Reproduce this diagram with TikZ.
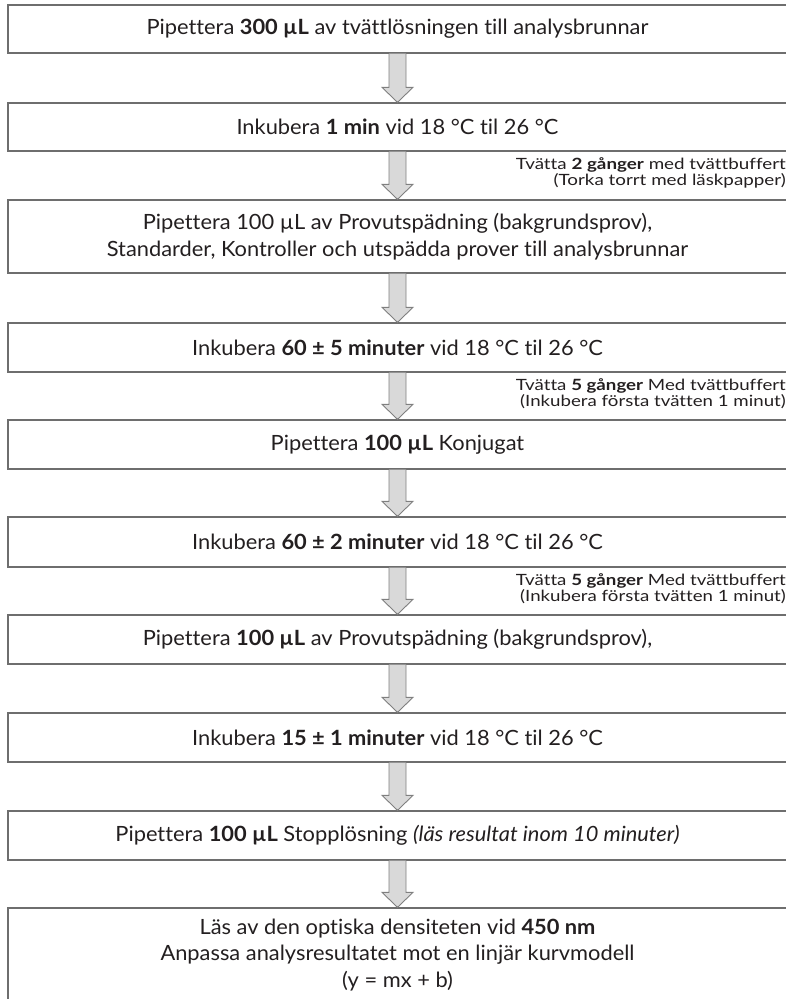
\documentclass[tikz,border=0pt]{standalone}
\usepackage{fontspec}
\setmainfont{Lato}[Ligatures=NoCommon, FakeStretch=1.04]
\newfontfamily\notefont{Lato}[Ligatures=NoCommon]
\usetikzlibrary{calc}

\definecolor{boxline}{HTML}{6E6E6E}
\definecolor{arrowfill}{HTML}{D9D9D9}
\definecolor{arrowline}{HTML}{7F7F7F}
\definecolor{inktext}{HTML}{231F20}

% two right-aligned lines of a wash note, stretched to the width of the original
\newcommand{\washtext}[2]{\resizebox{270pt}{\height}{\begin{tabular}{@{}r@{}}#1\\#2\end{tabular}}}

\begin{document}
\begin{tikzpicture}[x=1pt,y=1pt,
    stepbox/.style={draw=boxline, line width=1.3pt, fill=white, text=inktext,
      minimum width=779pt, minimum height=#1, inner sep=0pt, align=center,
      font=\fontsize{21}{26.5}\selectfont},
    washnote/.style={anchor=east, inner sep=0pt, text=inktext,
      font=\notefont\fontsize{15.5}{16}\selectfont},
    fatarrow/.style={draw=arrowline, fill=arrowfill, line width=0.9pt, line join=miter}]
    \useasboundingbox (0,0) rectangle (785,999);
    % steps
    \node[stepbox=48pt] (pip300) at (397.5,970) {Pipettera \textbf{300 µL} av tvättlösningen till analysbrunnar};
    \node[stepbox=48pt] (ink1) at (397.5,872) {Inkubera \textbf{1 min} vid 18 °C til 26 °C};
    \node[stepbox=73pt] (pipprov) at (397.5,762.5) {Pipettera 100 µL av Provutspädning (bakgrundsprov),\\Standarder, Kontroller och utspädda prover till analysbrunnar};
    \node[stepbox=49pt] (ink60a) at (397.5,651.5) {Inkubera \textbf{60 ± 5 minuter} vid 18 °C til 26 °C};
    \node[stepbox=49pt] (konj) at (397.5,554.5) {Pipettera \textbf{100 µL} Konjugat};
    \node[stepbox=50pt] (ink60b) at (397.5,457) {Inkubera \textbf{60 ± 2 minuter} vid 18 °C til 26 °C};
    \node[stepbox=49pt] (pipprov2) at (397.5,359.5) {Pipettera \textbf{100 µL} av Provutspädning (bakgrundsprov),};
    \node[stepbox=49pt] (ink15) at (397.5,261.5) {Inkubera \textbf{15 ± 1 minuter} vid 18 °C til 26 °C};
    \node[stepbox=49pt] (stopp) at (397.5,163.5) {Pipettera \textbf{100 µL} Stopplösning \textit{(läs resultat inom 10 minuter)}};
    \node[stepbox=94pt] (las) at (397.5,44) {Läs av den optiska densiteten vid \textbf{450 nm}\\Anpassa analysresultatet mot en linjär kurvmodell\\(y = mx + b)};
    % arrows between steps
    \foreach \a/\b in {pip300/ink1, ink1/pipprov, pipprov/ink60a, ink60a/konj, konj/ink60b,
        ink60b/pipprov2, pipprov2/ink15, ink15/stopp, stopp/las}
      \draw[fatarrow] ($(\a.south)+(-8.5,0)$) -- ($(\b.north)+(-8.5,15)$) -- ($(\b.north)+(-15.5,15)$)
        -- (\b.north) -- ($(\b.north)+(15.5,15)$) -- ($(\b.north)+(8.5,15)$) -- ($(\a.south)+(8.5,0)$);
    % wash notes
    \node[washnote] (tvatt2) at (786,825) {\washtext{Tvätta \textbf{2 gånger} med tvättbuffert}{(Torka torrt med läskpapper)}};
    \node[washnote] (tvatt5a) at (786,604) {\washtext{Tvätta \textbf{5 gånger} Med tvättbuffert}{(Inkubera första tvätten 1 minut)}};
    \node[washnote] (tvatt5b) at (786,409) {\washtext{Tvätta \textbf{5 gånger} Med tvättbuffert}{(Inkubera första tvätten 1 minut)}};
\end{tikzpicture}
\end{document}
